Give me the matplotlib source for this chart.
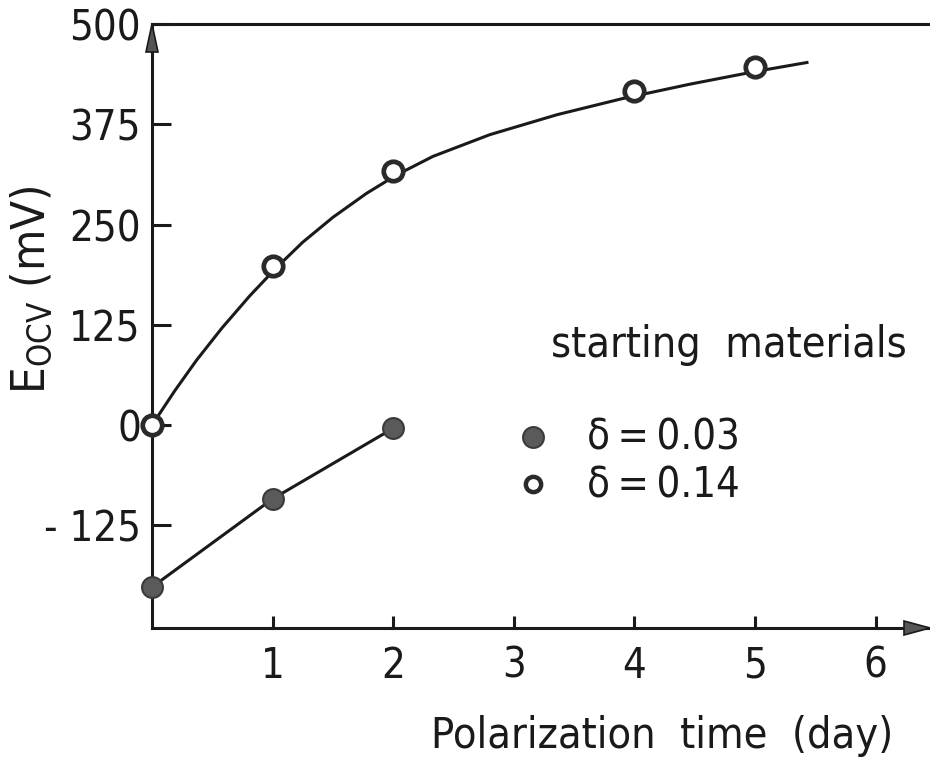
import matplotlib
matplotlib.use("Agg")
import matplotlib.pyplot as plt
from matplotlib.patches import Polygon

plt.rcParams['font.family'] = ['DejaVu Sans']
plt.rcParams['font.stretch'] = 'condensed'

# ---- data ----
days_open = [0, 1, 2, 4, 5]
eocv_open = [0, 198, 317, 416, 446]          # delta = 0.14
days_filled = [0, 1, 2]
eocv_filled = [-202, -92, -4]                # delta = 0.03
curve_days = [0, 0.19, 0.37, 0.58, 0.81, 1.03, 1.25, 1.50, 1.78, 2.03,
              2.33, 2.80, 3.36, 3.90, 4.46, 5.01, 5.43]
curve_mv = [0, 43, 81, 121, 161, 196, 228, 259, 289, 312,
            335, 362, 387, 407, 425, 441, 452]
yticks = [-125, 0, 125, 250, 375, 500]
ytick_labels = ['- 125', '0', '125', '250', '375', '500']
xticks = [1, 2, 3, 4, 5, 6]
xtick_labels = ['1', '2', '3', '4', '5', '6']

W, H = 930, 757
fig = plt.figure(figsize=(W / 100, H / 100), dpi=100)
ax = fig.add_axes([152 / W, (H - 628) / H, (W - 152) / W, (628 - 24) / H])
ax.set_xlim(0, 6.45)
ax.set_ylim(-253, 500)

lw = 2.2
ink = '#1a1a1a'
for s in ['left', 'bottom', 'top']:
    ax.spines[s].set_linewidth(lw)
    ax.spines[s].set_color(ink)
ax.spines['right'].set_visible(False)

fs = 30
ax.set_yticks(yticks)
ax.set_yticklabels(ytick_labels)
ax.set_xticks(xticks)
ax.set_xticklabels(xtick_labels)
ax.tick_params(axis='y', direction='in', length=14, width=2.2, pad=8,
               labelsize=fs, colors=ink)
ax.tick_params(axis='x', direction='in', length=9, width=2.2, pad=12,
               labelsize=fs, colors=ink)
ax.tick_params(top=False, right=False)

# curve and lines
ax.plot(curve_days, curve_mv, color=ink, lw=2.2, clip_on=False, zorder=2,
        solid_joinstyle='round')
ax.plot(days_filled, eocv_filled, color=ink, lw=2.2, clip_on=False, zorder=2)
ax.plot(days_open, eocv_open, 'o', ms=14, mfc='white', mec='#2a2a2a',
        mew=3.4, clip_on=False, zorder=3, ls='none')
ax.plot(days_filled, eocv_filled, 'o', ms=15, mfc='#5a5a5a', mec='#3a3a3a',
        mew=1.5, clip_on=False, zorder=3, ls='none')

# axis arrows (axes-fraction coordinates)
tr = ax.transAxes
bw = 604.0  # axes height px
aw = 778.0  # axes width px
up = Polygon([(0 - 6 / aw, 1 - 28 / bw), (0 + 6 / aw, 1 - 28 / bw), (0, 1.0)],
             closed=True, transform=tr, facecolor='#555555', edgecolor=ink,
             lw=1.2, clip_on=False, zorder=4)
right = Polygon([(1 - 26 / aw, 0 + 7 / bw), (1 - 26 / aw, 0 - 7 / bw), (1.0, 0)],
                closed=True, transform=tr, facecolor='#555555', edgecolor=ink,
                lw=1.2, clip_on=False, zorder=4)
ax.add_patch(up)
ax.add_patch(right)

# axis labels
fig.text(662 / W, 1 - 736 / H, 'Polarization  time  (day)', fontsize=fs + 1,
         ha='center', va='center', color=ink)
fig.text(32 / W, 1 - 290 / H, r'E$_{\mathregular{OCV}}$ (mV)', fontsize=fs + 4,
         rotation=90, ha='center', va='center', color=ink)

# legend
fig.text(729 / W, 1 - 345 / H, 'starting  materials', fontsize=fs + 1,
         ha='center', va='center', color=ink)
ax.plot([3.16], [-15], 'o', ms=15, mfc='#5a5a5a', mec='#3a3a3a', mew=1.5,
        clip_on=False)
fig.text(587 / W, 1 - 437 / H, 'δ\u2009=\u20090.03', fontsize=fs,
         ha='left', va='center', color=ink)
ax.plot([3.16], [-74], 'o', ms=11, mfc='white', mec='#2a2a2a', mew=3.2,
        clip_on=False)
fig.text(587 / W, 1 - 485 / H, 'δ\u2009=\u20090.14', fontsize=fs,
         ha='left', va='center', color=ink)

fig.savefig('out.png', dpi=100)
